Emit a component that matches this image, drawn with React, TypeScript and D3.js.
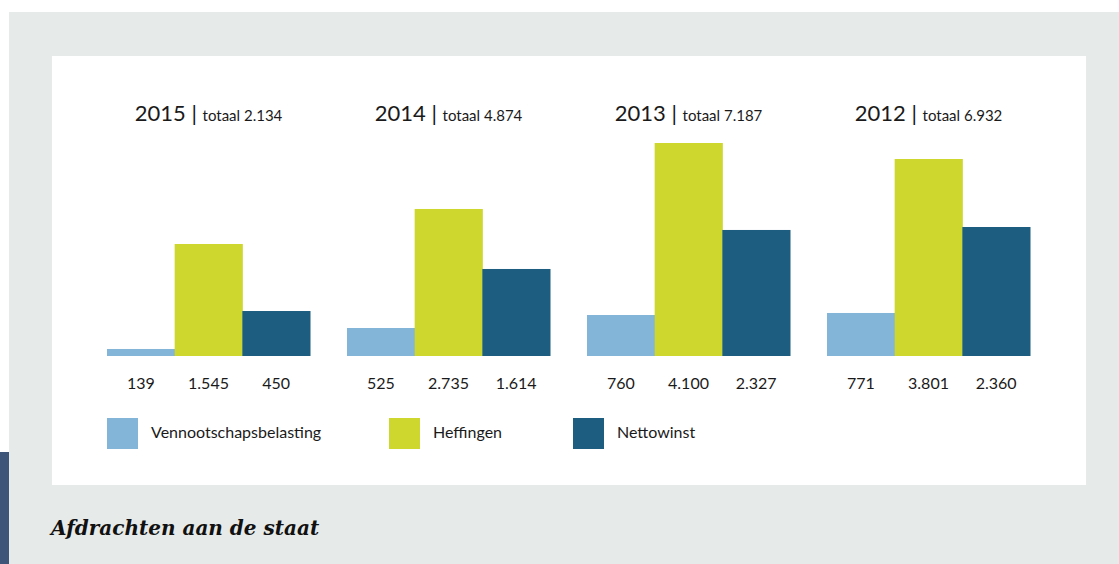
import React from "react";
import * as d3 from "d3";

const years = ["2015", "2014", "2013", "2012"];
const totals = ["2.134", "4.874", "7.187", "6.932"];
const seriesNames = ["Vennootschapsbelasting", "Heffingen", "Nettowinst"];
// printed values
const labelVpb = ["139", "525", "760", "771"];
const labelHeffingen = ["1.545", "2.735", "4.100", "3.801"];
const labelNetto = ["450", "1.614", "2.327", "2.360"];
// bar lengths as drawn in the picture (same units)
const barVpb = [135, 539, 789, 828];
const barHeffingen = [2156, 2830, 4100, 3792];
const barNetto = [866, 1675, 2426, 2483];

const colors = ["#82b5d8", "#cdd72e", "#1d5e80"];
const W = 1119;
const H = 564;
const FONT = "Lato, 'Open Sans', sans-serif";

export default function App() {
  const baseY = 356;
  const x0 = d3
    .scaleBand<string>()
    .domain(years)
    .range([88.5, 1048.5])
    .paddingInner(37 / 240)
    .paddingOuter(37 / 480);
  const x1 = d3
    .scaleBand<string>()
    .domain(seriesNames)
    .range([0, x0.bandwidth()]);
  const y = d3.scaleLinear().domain([0, 4100]).range([baseY, 143]);

  const bars = [barVpb, barHeffingen, barNetto];
  const labels = [labelVpb, labelHeffingen, labelNetto];
  const legendX = [107, 389, 573];

  return (
    <svg
      width={W}
      height={H}
      style={{ position: "absolute", left: 0, top: 0 }}
      fontFamily={FONT}
    >
      <rect x={0} y={0} width={W} height={H} fill="#ffffff" />
      <rect x={9} y={12} width={W - 9} height={H - 12} fill="#e6eae8" />
      <rect x={0} y={452} width={9} height={H - 452} fill="#3d5578" />
      <rect x={52} y={56} width={1034} height={429} fill="#ffffff" />

      {years.map((yr, gi) => {
        const gx = x0(yr)!;
        const cx = gx + x0.bandwidth() / 2;
        return (
          <g key={yr}>
            <text x={cx} y={121} textAnchor="middle" fill="#1a1a1a" fontWeight={400}>
              <tspan fontSize={22}>{yr}</tspan>
              <tspan fontSize={22}> | </tspan>
              <tspan fontSize={15}>totaal {totals[gi]}</tspan>
            </text>
            {seriesNames.map((s, si) => {
              const v = bars[si][gi];
              return (
                <g key={s}>
                  <rect
                    x={gx + x1(s)!}
                    y={y(v)}
                    width={x1.bandwidth() + 0.5}
                    height={baseY - y(v)}
                    fill={colors[si]}
                  />
                  <text
                    x={gx + x1(s)! + x1.bandwidth() / 2}
                    y={389}
                    textAnchor="middle"
                    fontSize={16}
                    fill="#1a1a1a"
                  >
                    {labels[si][gi]}
                  </text>
                </g>
              );
            })}
          </g>
        );
      })}

      {seriesNames.map((s, si) => (
        <g key={s} transform={`translate(${legendX[si]},418)`}>
          <rect x={0} y={0} width={31} height={31} fill={colors[si]} />
          <text x={44} y={20} fontSize={16} fill="#1a1a1a">
            {s}
          </text>
        </g>
      ))}

      <text
        x={51}
        y={535}
        fontFamily="'DejaVu Serif', serif"
        fontStyle="italic"
        fontWeight="bold"
        fontSize={20}
        fill="#111"
      >
        Afdrachten aan de staat
      </text>
    </svg>
  );
}
